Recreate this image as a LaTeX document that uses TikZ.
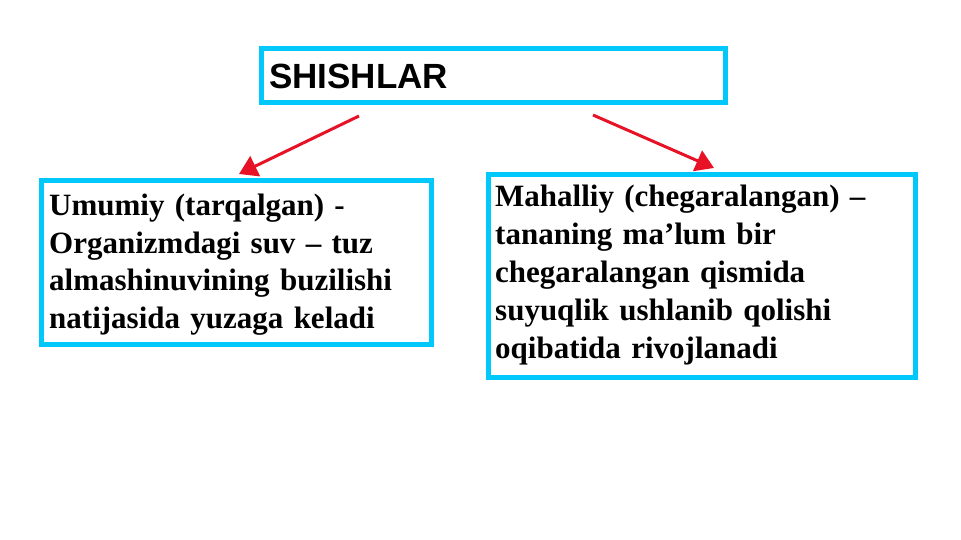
\documentclass[tikz,border=0pt]{standalone}
\usepackage{fontspec}
\setmainfont{Liberation Serif}
\setsansfont{Liberation Sans}
\usetikzlibrary{arrows.meta, positioning}
\definecolor{boxcyan}{RGB}{0,200,250}
\definecolor{arrred}{RGB}{232,18,38}

\begin{document}
\begin{tikzpicture}[
  x=1pt, y=-1pt,
  box/.style={draw=boxcyan, line width=5pt, fill=white, anchor=north west, inner sep=0pt},
  txt/.style={font=\bfseries\fontsize{31}{37.5}\selectfont, align=left, anchor=north west, inner sep=0pt},
  arr/.style={-{Triangle[length=18pt, width=22pt]}, arrred, line width=3pt}
]
\useasboundingbox (0,0) rectangle (961,540);

\node[box, minimum width=464pt, minimum height=54pt] (title) at (259,46) {};
\node[anchor=west, inner sep=0pt, font=\sffamily\bfseries\fontsize{35}{40}\selectfont] (titletxt) at (269,76) {SHISHLAR};

\node[box, minimum width=390pt, minimum height=164pt] (general) at (39,178) {};
\node[txt, text width=380pt] (generaltxt) at (49,194) {Umumiy (tarqalgan) -\\Organizmdagi suv -- tuz\\almashinuvining buzilishi\\natijasida yuzaga keladi};

\node[box, minimum width=427pt, minimum height=203pt] (local) at (486,172) {};
\node[txt, text width=410pt, font=\bfseries\fontsize{31}{38}\selectfont] (localtxt) at (495,185) {Mahalliy (chegaralangan) --\\tananing ma’lum bir\\chegaralangan qismida\\suyuqlik ushlanib qolishi\\oqibatida rivojlanadi};

\coordinate (lstart) at (359,116);
\coordinate (rstart) at (593,115);
\coordinate (lend) at (239,174);
\coordinate (rend) at (714,168);
\draw[arr] (lstart) -- (lend);
\draw[arr] (rstart) -- (rend);
\end{tikzpicture}
\end{document}
